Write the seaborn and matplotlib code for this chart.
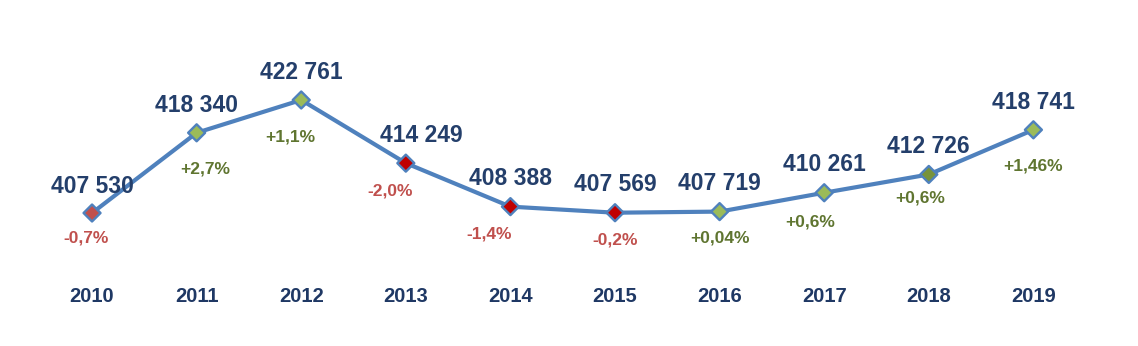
import matplotlib
matplotlib.use("Agg")
import matplotlib.pyplot as plt
import matplotlib.transforms as mtransforms
import seaborn as sns
import pandas as pd

years = ["2010", "2011", "2012", "2013", "2014", "2015", "2016", "2017", "2018", "2019"]
values = [407530, 418340, 422761, 414249, 408388, 407569, 407719, 410261, 412726, 418741]
value_labels = ["407 530", "418 340", "422 761", "414 249", "408 388",
                "407 569", "407 719", "410 261", "412 726", "418 741"]
pct_labels = ["-0,7%", "+2,7%", "+1,1%", "-2,0%", "-1,4%",
              "-0,2%", "+0,04%", "+0,6%", "+0,6%", "+1,46%"]

# styling / placement (not data)
marker_colors = ["#c0504d", "#9bbb59", "#9bbb59", "#c00000", "#c00000",
                 "#c00000", "#9bbb59", "#9bbb59", "#77933c", "#9bbb59"]
value_offsets = [(0, 19), (0, 20), (0, 20), (11, 20), (0, 20),
                 (0, 20), (0, 20), (0, 20), (0, 20), (0, 20)]
pct_offsets = [(-4, -18), (6, -26), (-8, -27), (-11, -20), (-15, -20),
               (0, -20), (0, -19), (-10, -21), (-6, -17), (0, -26)]

sns.set_theme(style="white")
plt.rcParams["font.family"] = ["Liberation Sans", "DejaVu Sans"]

df = pd.DataFrame({"x": range(len(years)), "value": values, "year": years})

fig = plt.figure(figsize=(11.38, 3.46), dpi=100)
ax = fig.add_axes([0, 0, 1, 1])

sns.lineplot(data=df, x="x", y="value", ax=ax, color="#4f81bd", linewidth=3)
sns.scatterplot(data=df, x="x", y="value", hue="year",
                palette=dict(zip(years, marker_colors)), marker="D", s=75,
                edgecolor="#4f81bd", linewidth=1.7, legend=False, ax=ax, zorder=3)

ax.set_xlim(-0.88, 10.0)
ax.set_ylim(389605, 436238)
ax.axis("off")

for i, (v, lab, pl) in enumerate(zip(values, value_labels, pct_labels)):
    ax.annotate(lab, (i, v), xytext=value_offsets[i], textcoords="offset points",
                ha="center", va="center", fontsize=16.5, fontweight="bold",
                color="#243f6b")
    col = "#c0504d" if pl.startswith("-") else "#5f7530"
    ax.annotate(pl, (i, v), xytext=pct_offsets[i], textcoords="offset points",
                ha="center", va="center", fontsize=12.5, fontweight="bold", color=col)

trans = mtransforms.blended_transform_factory(ax.transData, ax.transAxes)
for i, y in enumerate(years):
    ax.text(i, 1 - 297 / 346, y, transform=trans, ha="center", va="center",
            fontsize=14.5, fontweight="bold", color="#1f3864")

fig.savefig("out.png", dpi=100, facecolor="white")
